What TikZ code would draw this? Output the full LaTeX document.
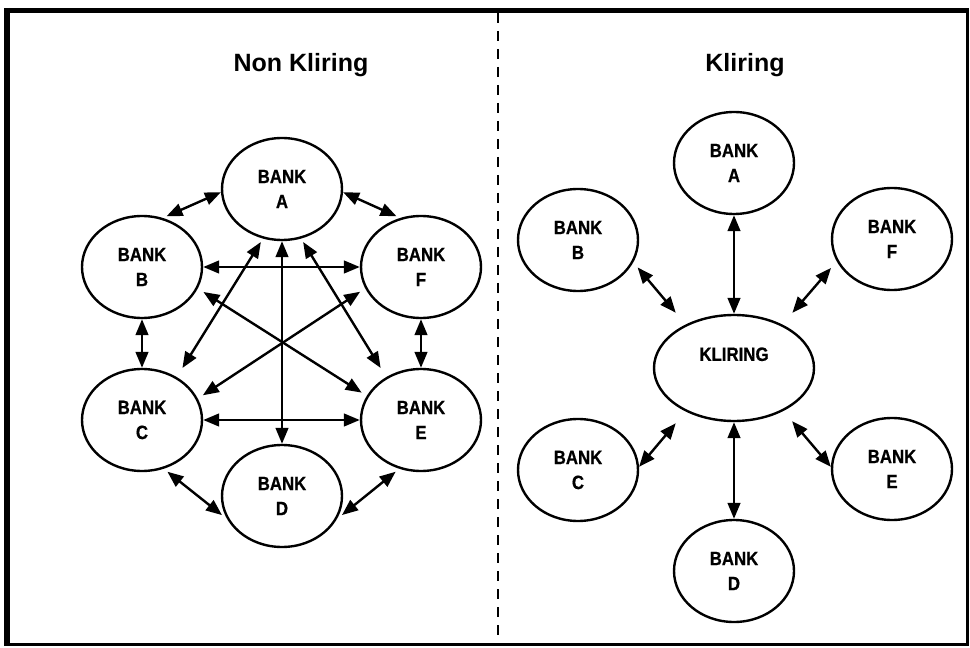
\documentclass[tikz,border=0pt]{standalone}
\usepackage{fontspec}
\setmainfont{Liberation Sans}
\newfontfamily\bankfont[FakeStretch=0.87,FakeBold=0.6]{Liberation Sans}
\usetikzlibrary{shapes.geometric,arrows.meta}
\begin{document}
\begin{tikzpicture}[x=0.75pt,y=-0.75pt,
  bank/.style={ellipse,draw,line width=1.8pt,minimum width=90pt,minimum height=76.5pt,
    inner sep=0pt,align=center,font=\bankfont\bfseries\fontsize{14.5}{18.75}\selectfont},
  hub/.style={bank,minimum width=120pt,minimum height=79.5pt},
  conn/.style={line width=1.8pt,{Triangle[length=12pt,width=9.5pt]}-{Triangle[length=12pt,width=9.5pt]}},
  title/.style={font=\bfseries\fontsize{18.75}{22}\selectfont,anchor=base,inner sep=0pt}
]
\useasboundingbox (0,0) rectangle (970,648);
\fill[white] (0,0) rectangle (970,648);
% frame
\draw[line width=4.5pt] (6.5,8) -- (6.5,645.5);
\draw[line width=3.75pt] (4,10.5) -- (969,10.5);
\draw[line width=2.25pt] (967.5,9) -- (967.5,645.5);
\draw[line width=2.25pt] (4,644.5) -- (969,644.5);
\draw[line width=2.2pt,dash pattern=on 7.5pt off 6pt] (498,13) -- (498,642);
% titles
\node[title] (t1) at (301,72) {Non Kliring};
\node[title] (t2) at (745,72) {Kliring};
% left: non kliring
\node[bank] (LA) at (282,189) {BANK\\A};
\node[bank] (LB) at (142,267) {BANK\\B};
\node[bank] (LF) at (421,267) {BANK\\F};
\node[bank] (LC) at (142,420) {BANK\\C};
\node[bank] (LE) at (421,420) {BANK\\E};
\node[bank] (LD) at (282,496) {BANK\\D};
\draw[conn,shorten >=3pt] (LA.183) -- (LB.67);
\draw[conn,shorten >=3pt] (LA.-3) -- (LF.113);
\draw[conn] (LB.east) -- (LF.west);
\draw[conn] (LA.south) -- (LD.north);
\draw[conn,shorten <=3pt,shorten >=8pt] (LA.-111) -- (LC.51);
\draw[conn,shorten <=3pt,shorten >=8pt] (LA.-69) -- (LE.129);
\draw[conn,shorten <=5pt,shorten >=4.5pt] (LB.-21) -- (LE.156);
\draw[conn,shorten <=4.5pt,shorten >=4.5pt] (LF.201) -- (LC.21.5);
\draw[conn] (LC.east) -- (LE.west);
\draw[conn] (LB.south) -- (LC.north);
\draw[conn] (LF.south) -- (LE.north);
\draw[conn,shorten <=3.5pt,shorten >=5pt] (LC.-66) -- (LD.203);
\draw[conn,shorten <=3.5pt,shorten >=5pt] (LE.-114) -- (LD.-23);
% right: kliring
\node[bank] (RA) at (734,163) {BANK\\A};
\node[bank] (RB) at (578,240) {BANK\\B};
\node[bank] (RF) at (892,239) {BANK\\F};
\node[hub]  (RK) at (734,368) {KLIRING\\[2pt]\mbox{}};
\node[bank] (RC) at (578,470) {BANK\\C};
\node[bank] (RE) at (892,469) {BANK\\E};
\node[bank] (RD) at (734,571) {BANK\\D};
\draw[conn] (RA.south) -- (RK.north);
\draw[conn,shorten <=5pt,shorten >=11.5pt] (RB.-22.6) -- (RK.138);
\draw[conn,shorten <=6.5pt,shorten >=11.5pt] (RF.202.8) -- (RK.42);
\draw[conn,shorten >=11.5pt] (RC.3) -- (RK.-138);
\draw[conn,shorten >=10pt] (RE.178) -- (RK.-41);
\draw[conn] (RK.south) -- (RD.north);
\end{tikzpicture}
\end{document}
